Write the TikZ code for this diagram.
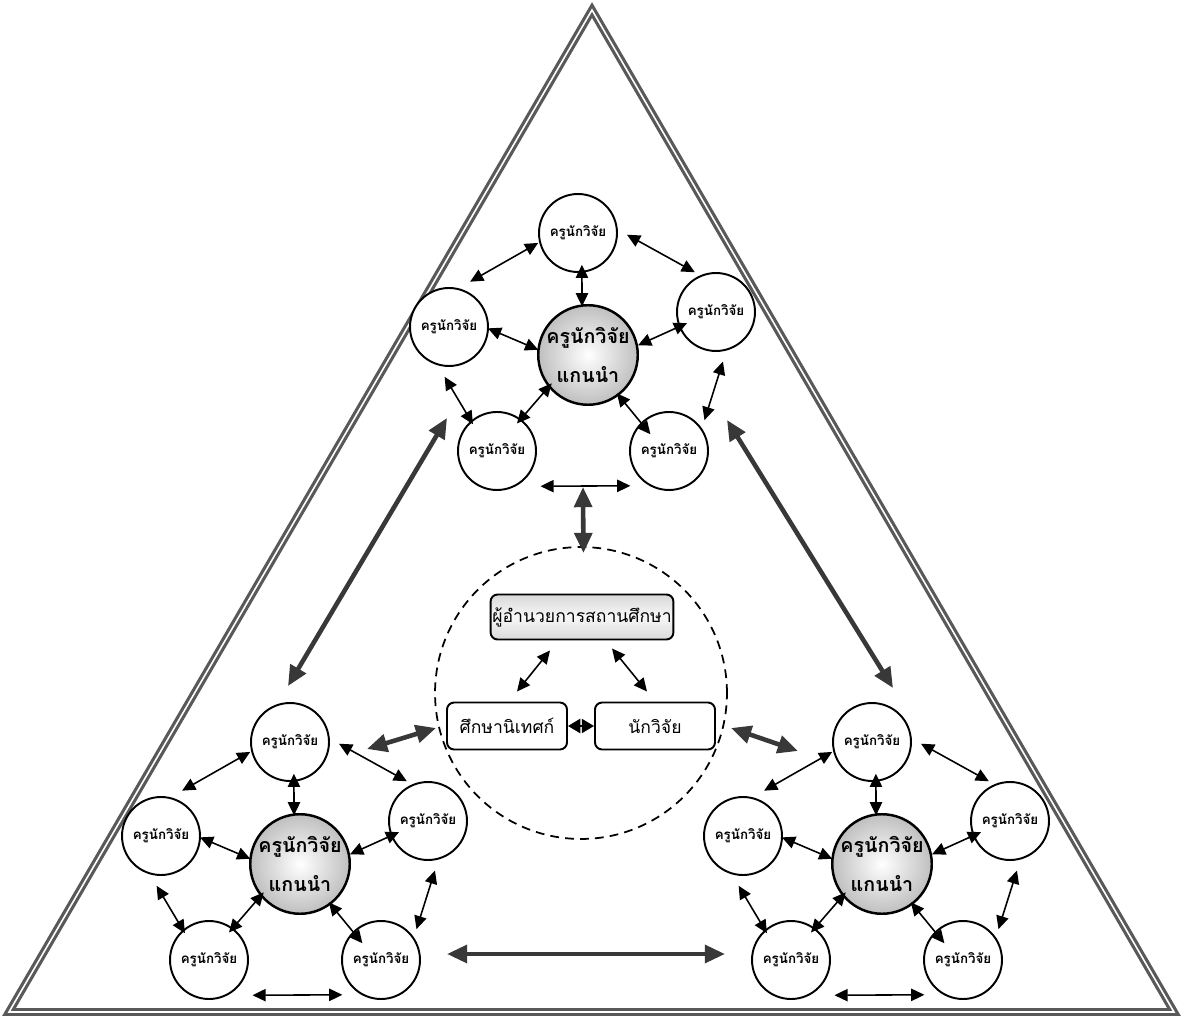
\documentclass[tikz,border=0pt]{standalone}
\usepackage{fontspec}
\setmainfont{Loma}[Script=Thai]
\usetikzlibrary{arrows.meta,calc}
\tikzset{
  member/.style={circle,draw=black,line width=1.1pt,fill=white,minimum size=1.56cm,inner sep=0pt,font=\fontsize{7.6}{9}\selectfont\bfseries},
  lead/.style={circle,draw=black,line width=1.4pt,inner color=white,outer color=gray!50,minimum size=1.92cm,inner sep=0pt,align=center,font=\fontsize{11.2}{22}\selectfont\bfseries},
  lnk/.style={{Triangle[length=7.5pt,width=7pt]}-{Triangle[length=7.5pt,width=7pt]},line width=0.9pt,draw=black},
  bigl/.style={{Triangle[length=11.5pt,width=10pt]}-{Triangle[length=11.5pt,width=10pt]},line width=2.6pt,draw=black!78},
  box/.style={rounded corners=4pt,draw=black,line width=1.1pt,fill=white,minimum width=2.4cm,minimum height=0.94cm,inner sep=1pt,font=\fontsize{10}{12}\selectfont},
}
\newcommand\rescluster[3]{%
  \node[lead] (#1C) at (#2,#3) {ครูนักวิจัย\\แกนนำ};
  \node[member] (#1T) at ($(#1C)+(-10,122)$) {ครูนักวิจัย};
  \node[member] (#1L) at ($(#1C)+(-139,28)$) {ครูนักวิจัย};
  \node[member] (#1R) at ($(#1C)+(128,43)$) {ครูนักวิจัย};
  \node[member] (#1P) at ($(#1C)+(-91,-96)$) {ครูนักวิจัย};
  \node[member] (#1Q) at ($(#1C)+(81,-96)$) {ครูนักวิจัย};
  \draw[lnk] ($(#1T)+(194:41)$) -- ($(#1L)+(65:50)$);
  \draw[lnk] ($(#1T)+(358:49)$) -- ($(#1R)+(118:45)$);
  \draw[lnk] ($(#1T)+(277:32)$) -- ($(#1C)+(97:49)$);
  \draw[lnk] ($(#1L)+(358:39)$) -- ($(#1C)+(174:50)$);
  \draw[lnk] ($(#1R)+(201:31)$) -- ($(#1C)+(11:51)$);
  \draw[lnk] ($(#1L)+(265:50)$) -- ($(#1P)+(132:36)$);
  \draw[lnk] ($(#1C)+(218:46)$) -- ($(#1P)+(54:34)$);
  \draw[lnk] ($(#1C)+(307:48)$) -- ($(#1Q)+(138:25)$);
  \draw[lnk] ($(#1R)+(278:50)$) -- ($(#1Q)+(41:47)$);
  \draw[lnk] ($(#1P)+(321:56)$) -- ($(#1Q)+(222:52)$);
}
\begin{document}
\begin{tikzpicture}[x=0.02cm,y=0.02cm]
\useasboundingbox (0,0) rectangle (1184,1019);
\fill[white] (0,0) rectangle (1184,1019);
% outer triangle
\draw[line width=1.8pt,double=white,double distance=0.9pt,draw=black!65,line join=miter]
  (9,7) -- (592,1009) -- (1174,7) -- cycle;

% clusters
\rescluster{top}{588}{664}
\rescluster{lft}{300}{155}
\rescluster{rgt}{882}{155}

% centre group
\node[circle,draw=black,dashed,dash pattern=on 5pt off 3.5pt,line width=1pt,minimum size=5.84cm,inner sep=0pt] (D) at (581,326) {};
\node[box,minimum width=3.64cm,minimum height=0.9cm,top color=gray!30,bottom color=gray!30,middle color=gray!6] (P) at (582,402) {ผู้อำนวยการสถานศึกษา};
\node[box] (S) at (507,293) {ศึกษานิเทศก์};
\node[box] (N) at (655,293) {นักวิจัย};
\draw[lnk] ($(P.south)+(-32,-10)$) -- ($(S.north)+(10,10)$);
\draw[lnk] ($(P.south)+(30,-8)$) -- ($(N.north)+(-8,10)$);
\draw[{Triangle[length=7pt,width=8pt]}-{Triangle[length=7pt,width=8pt]},line width=1.2pt] (S.east) -- (N.west);

% big links
\draw[bigl] ($(topC)+(-5,-132)$) -- ($(D)+(89:140)$);
\draw[bigl] ($(topL)+(-2,-91)$) -- ($(lftT)+(-2,56)$);
\draw[bigl] ($(topR)+(11,-108)$) -- ($(rgtT)+(21,54)$);
\draw[bigl] ($(lftQ)+(66,6)$) -- ($(rgtP)+(-66,6)$);
\draw[bigl] ($(lftT)+(77,-7)$) -- ($(S.west)+(-10,-2)$);
\draw[bigl] ($(N.east)+(15,-2)$) -- ($(rgtT)+(-74,-9)$);
\end{tikzpicture}
\end{document}
